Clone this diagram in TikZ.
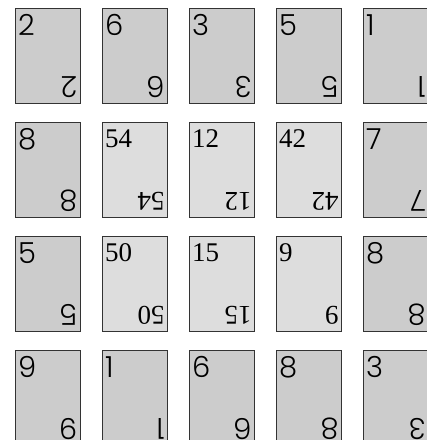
\documentclass[tikz,border=0pt]{standalone}
\usepackage{fontspec}
\newfontfamily\cardsans{Poppins Light}
\newfontfamily\cardserif{Liberation Serif}
\definecolor{sansfill}{HTML}{CCCCCC}
\definecolor{seriffill}{HTML}{DDDDDD}
\definecolor{cardline}{HTML}{333333}
\tikzset{
  cardbase/.style={draw=cardline, line width=0.9pt, anchor=north west, inner sep=0pt, outer sep=0pt,
    minimum width=65.5pt, minimum height=95pt},
  sans card/.style={cardbase, fill=sansfill},
  serif card/.style={cardbase, fill=seriffill},
  numbase/.style={anchor=base west, inner sep=0pt, outer sep=0pt, text=black},
  sans num/.style={numbase, font=\cardsans\fontsize{29}{29}\selectfont},
  serif num/.style={numbase, font=\cardserif\fontsize{27}{27}\selectfont},
}
\begin{document}
\begin{tikzpicture}[x=1pt,y=-1pt]
\useasboundingbox (0,0) rectangle (427,440);
\clip (0,0) rectangle (427,440);
\foreach \t/\c/\r/\k/\b in {
  2/0/0/sans/27, 6/1/0/sans/27, 3/2/0/sans/27, 5/3/0/sans/27, 1/4/0/sans/27,
  8/0/1/sans/27, 54/1/1/serif/25, 12/2/1/serif/25, 42/3/1/serif/25, 7/4/1/sans/27,
  5/0/2/sans/27, 50/1/2/serif/25, 15/2/2/serif/25, 9/3/2/serif/25, 8/4/2/sans/27,
  9/0/3/sans/27, 1/1/3/sans/27, 6/2/3/sans/27, 8/3/3/sans/27, 3/4/3/sans/27}{
  \node[\k\space card] (card-\c-\r) at ({15+87*\c},{8+114*\r}) {};
  \node[\k\space num] (top-\c-\r) at ([xshift=3pt,yshift=-\b pt]card-\c-\r.north west) {\t};
  \node[\k\space num, rotate=180] (bot-\c-\r) at ([xshift=-3pt,yshift=\b pt]card-\c-\r.south east) {\t};
}
\end{tikzpicture}
\end{document}
